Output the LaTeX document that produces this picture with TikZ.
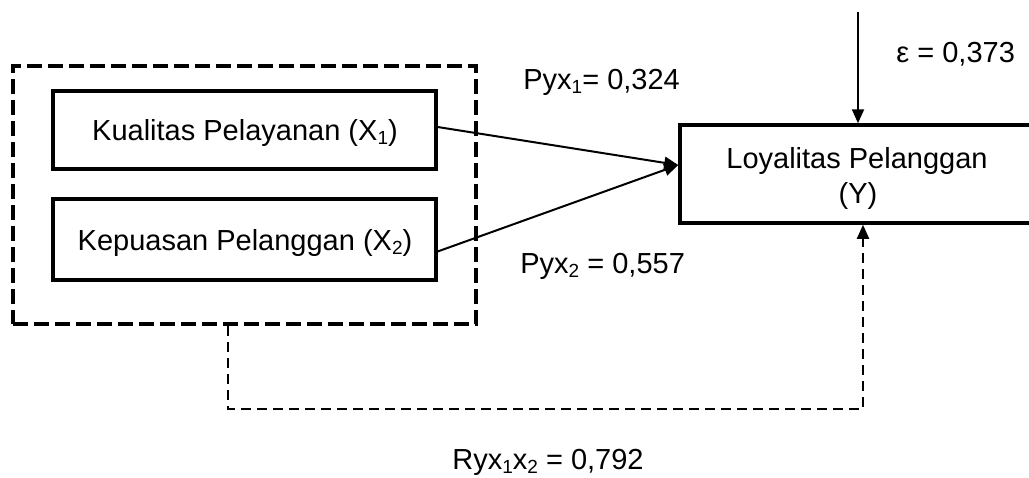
\documentclass[tikz,border=0pt]{standalone}
\usepackage{fontspec}
\setmainfont{Liberation Sans}
\usetikzlibrary{arrows.meta,calc}
\newcommand{\sbs}[1]{\raisebox{-0.15em}{\fontsize{9.5}{10}\selectfont #1}}
\begin{document}
\begin{tikzpicture}[x=0.5pt,y=-0.5pt,
  font=\fontsize{14.5}{17.5}\selectfont,
  varbox/.style={draw, line width=1.65pt, minimum width=191.5pt, inner sep=0pt, align=center},
  grpbox/.style={draw, line width=2pt, dash pattern=on 7.5pt off 3pt, minimum width=231.5pt, minimum height=129pt, inner sep=0pt},
  pathar/.style={line width=1pt, -{Triangle[length=7pt,width=6pt]}},
  corrar/.style={line width=1pt, dash pattern=on 5pt off 3pt, -{Triangle[length=7pt,width=6pt]}},
  lbl/.style={anchor=base west, inner sep=0pt},
  ctxt/.style={anchor=base, inner sep=0pt}]
\useasboundingbox (0,0) rectangle (1029,477);
\clip (0,0) rectangle (1029,477);
\fill[white] (0,0) rectangle (1029,477);

\node[grpbox] (grp) at (244.5,195) {};
\node[varbox, minimum height=39pt] (x1) at (244.5,130) {};
\node[ctxt] (x1t) at (245,140) {Kualitas Pelayanan (X\sbs{1})};
\node[varbox, minimum height=40.5pt] (x2) at (244.5,239.5) {};
\node[ctxt] (x2t) at (245,250) {Kepuasan Pelanggan (X\sbs{2})};
\node[varbox, line width=1.75pt, minimum width=177pt, minimum height=49pt] (ybox) at (857,174) {};
\node[ctxt] (yt1) at (857,168) {Loyalitas Pelanggan};
\node[ctxt] (yt2) at (858,203) {(Y)};

\coordinate (tip) at ($(ybox.west)+(0,-9)$);
\coordinate (epsTop) at ($(ybox.north)+(1,-111)$);
\coordinate (rStart) at ($(grp.south)+(-16.5,0)$);
\coordinate (rEnd) at ($(ybox.south)+(6,0)$);

\draw[pathar] ($(x1.east)+(0,-3)$) -- (tip);
\draw[pathar] ($(x2.east)+(0,12)$) -- (tip);
\draw[pathar] (epsTop) -- ($(ybox.north)+(1,0)$);
\draw[corrar] (rStart) -- ++(0,83) -| (rEnd);

\node[lbl] (p1) at (523,89) {Pyx\sbs{1}= 0,324};
\node[lbl] (p2) at (520,273) {Pyx\sbs{2} = 0,557};
\node[lbl] (eps) at (896,62) {ε = 0,373};
\node[lbl] (ryx) at (452,469) {Ryx\sbs{1}x\sbs{2} = 0,792};
\end{tikzpicture}
\end{document}
